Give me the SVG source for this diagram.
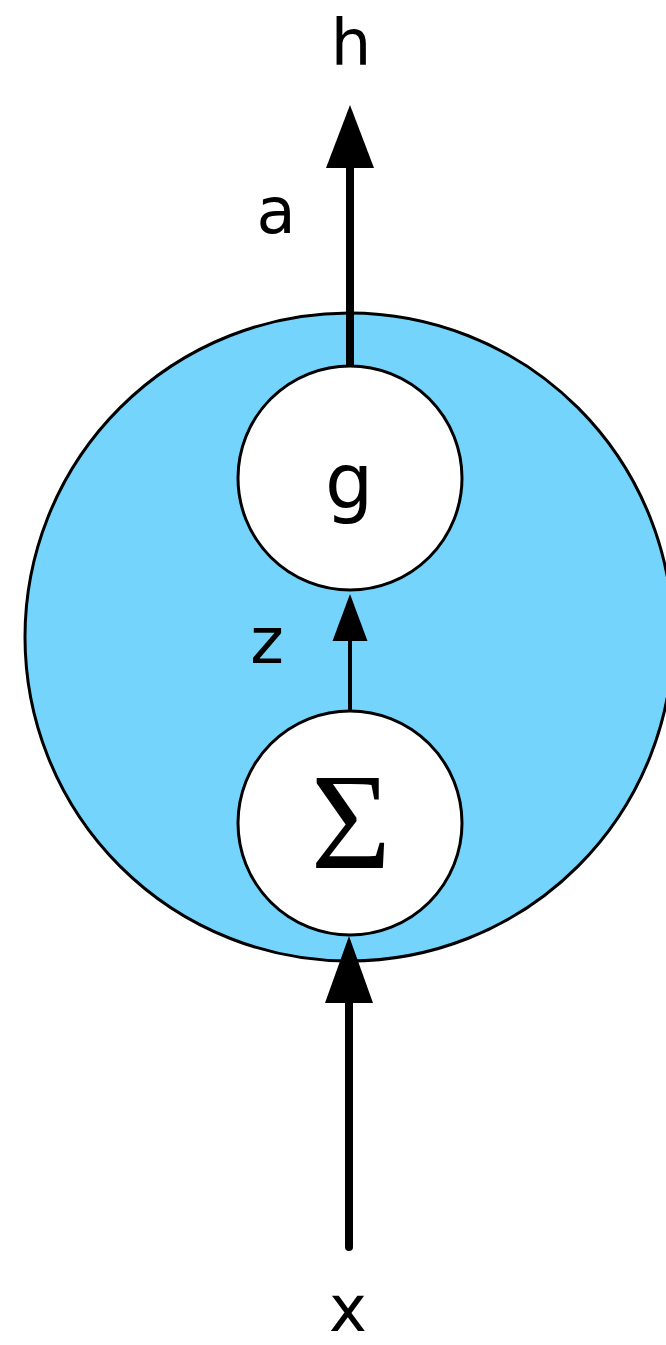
<svg xmlns="http://www.w3.org/2000/svg" width="666" height="1345" viewBox="0 0 666 1345">
<style>
.lbl{font-family:"DejaVu Sans","Liberation Sans",sans-serif;font-size:64px;fill:#000;text-anchor:middle}
.node{fill:#fff;stroke:#000;stroke-width:3}
.big{fill:#75D4FB;stroke:#000;stroke-width:3}
.thick{stroke:#000;stroke-width:8;fill:none}
.thin{stroke:#000;stroke-width:4;fill:none}
</style>
<rect width="666" height="1345" fill="#fff"/>
<g id="neuron">
<circle class="big" cx="349" cy="637" r="324"/>
</g>
<g id="connectors">
<line class="thick" x1="350" y1="368" x2="350" y2="160"/>
<polygon points="350,105 374,168 326,168" fill="#000"/>
<line class="thin" x1="350" y1="711" x2="350" y2="636"/>
<polygon points="350,594 367.5,641 332.5,641" fill="#000"/>
<line class="thick" x1="349" y1="1247" x2="349" y2="995" stroke-linecap="round"/>
<polygon points="349,936 373,1003 325,1003" fill="#000"/>
</g>
<g id="node-g">
<circle class="node" cx="350" cy="478" r="112"/>
<text class="lbl" x="349" y="508" style="font-size:76px">g</text>
</g>
<g id="node-sum">
<circle class="node" cx="350" cy="823" r="112"/>
<text x="351" y="868" style="font-family:'Liberation Serif','DejaVu Serif',serif;font-size:138px;text-anchor:middle">Σ</text>
</g>
<g id="labels">
<text class="lbl" x="351" y="65">h</text>
<text class="lbl" x="276" y="233">a</text>
<text class="lbl" x="267" y="663">z</text>
<text class="lbl" x="348" y="1331">x</text>
</g>
</svg>
